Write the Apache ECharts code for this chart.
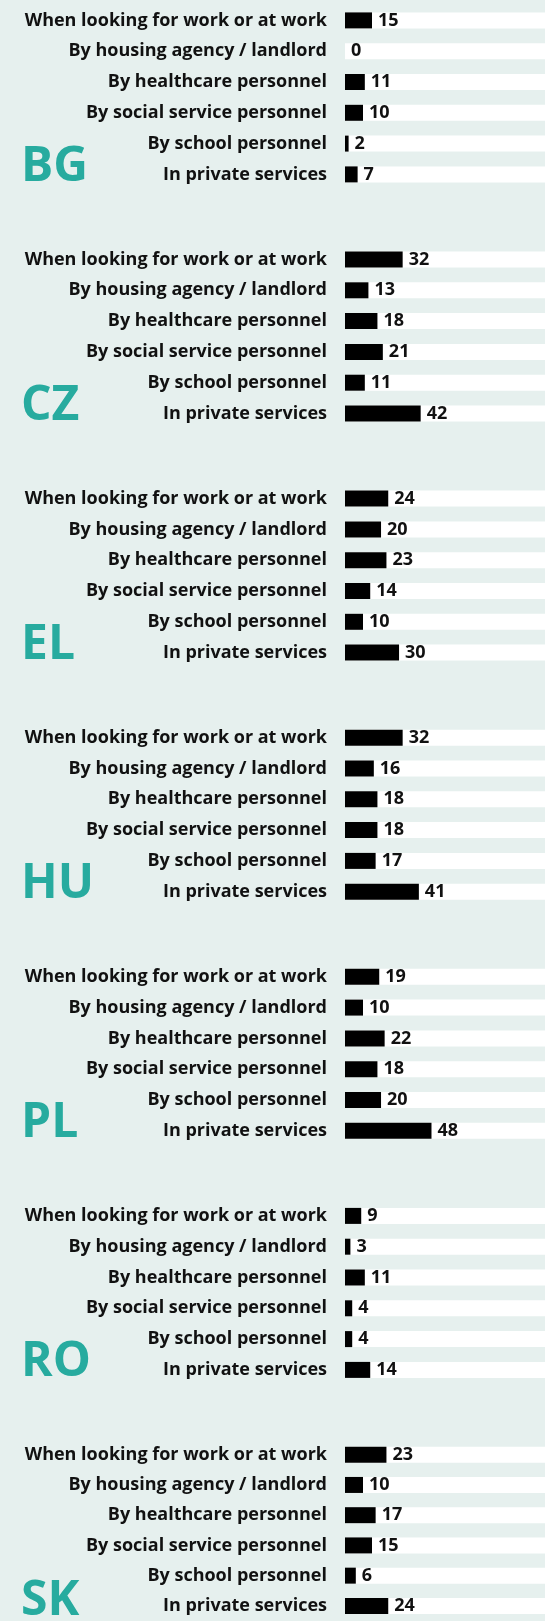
<!DOCTYPE html>
<html>
<head>
<meta charset="utf-8">
<script src="https://cdn.jsdelivr.net/npm/echarts@6/dist/echarts.min.js"></script>
<style>
  html, body { margin: 0; padding: 0; background: #e6f0ee; }
  #main { width: 545px; height: 1621px; }
</style>
</head>
<body>
<div id="main"></div>
<script>
const countries = ['BG', 'CZ', 'EL', 'HU', 'PL', 'RO', 'SK'];
const categories = [
    'When looking for work or at work',
    'By housing agency / landlord',
    'By healthcare personnel',
    'By social service personnel',
    'By school personnel',
    'In private services'
];
const bgValues = [15, 0, 11, 10, 2, 7];
const czValues = [32, 13, 18, 21, 11, 42];
const elValues = [24, 20, 23, 14, 10, 30];
const huValues = [32, 16, 18, 18, 17, 41];
const plValues = [19, 10, 22, 18, 20, 48];
const roValues = [9, 3, 11, 4, 4, 14];
const skValues = [23, 10, 17, 15, 6, 24];
const allValues = [bgValues, czValues, elValues, huValues, plValues, roValues, skValues];

const chart = echarts.init(document.getElementById('main'));
const teal = '#27ab9f';
const groupPitch = 239.1;
const rowPitch = 30.8;
const firstTop = 5;
const axisMax = 111;
const labelFont = '"Open Sans"';

const grids = [], xAxes = [], yAxes = [], series = [], graphics = [];

countries.forEach((c, i) => {
    const top = firstTop + i * groupPitch;
    grids.push({
        left: 345,
        right: 0,
        top: top,
        height: rowPitch * categories.length
    });
    xAxes.push({
        type: 'value',
        gridIndex: i,
        min: 0,
        max: axisMax,
        show: false
    });
    yAxes.push({
        type: 'category',
        gridIndex: i,
        inverse: true,
        data: categories,
        axisLine: { show: false },
        axisTick: { show: false },
        splitLine: { show: false },
        axisLabel: {
            margin: 18,
            color: '#111',
            fontFamily: labelFont,
            fontWeight: 'bold',
            fontSize: 18
        }
    });
    series.push({
        type: 'bar',
        name: c,
        xAxisIndex: i,
        yAxisIndex: i,
        data: allValues[i],
        barWidth: 16,
        showBackground: true,
        backgroundStyle: { color: '#ffffff' },
        itemStyle: { color: '#000' },
        label: {
            show: true,
            position: 'right',
            distance: 6,
            color: '#111',
            fontFamily: labelFont,
            fontWeight: 'bold',
            fontSize: 18
        },
        silent: true,
        animation: false
    });
    graphics.push({
        type: 'text',
        left: 21,
        top: top + 138,
        style: {
            text: c,
            fill: teal,
            font: 'bold 48px "Open Sans"'
        }
    });
});

chart.setOption({
    backgroundColor: '#e6f0ee',
    animation: false,
    grid: grids,
    xAxis: xAxes,
    yAxis: yAxes,
    series: series,
    graphic: graphics
});

window.addEventListener('resize', () => {
    chart.resize();
});
</script>
</body>
</html>
